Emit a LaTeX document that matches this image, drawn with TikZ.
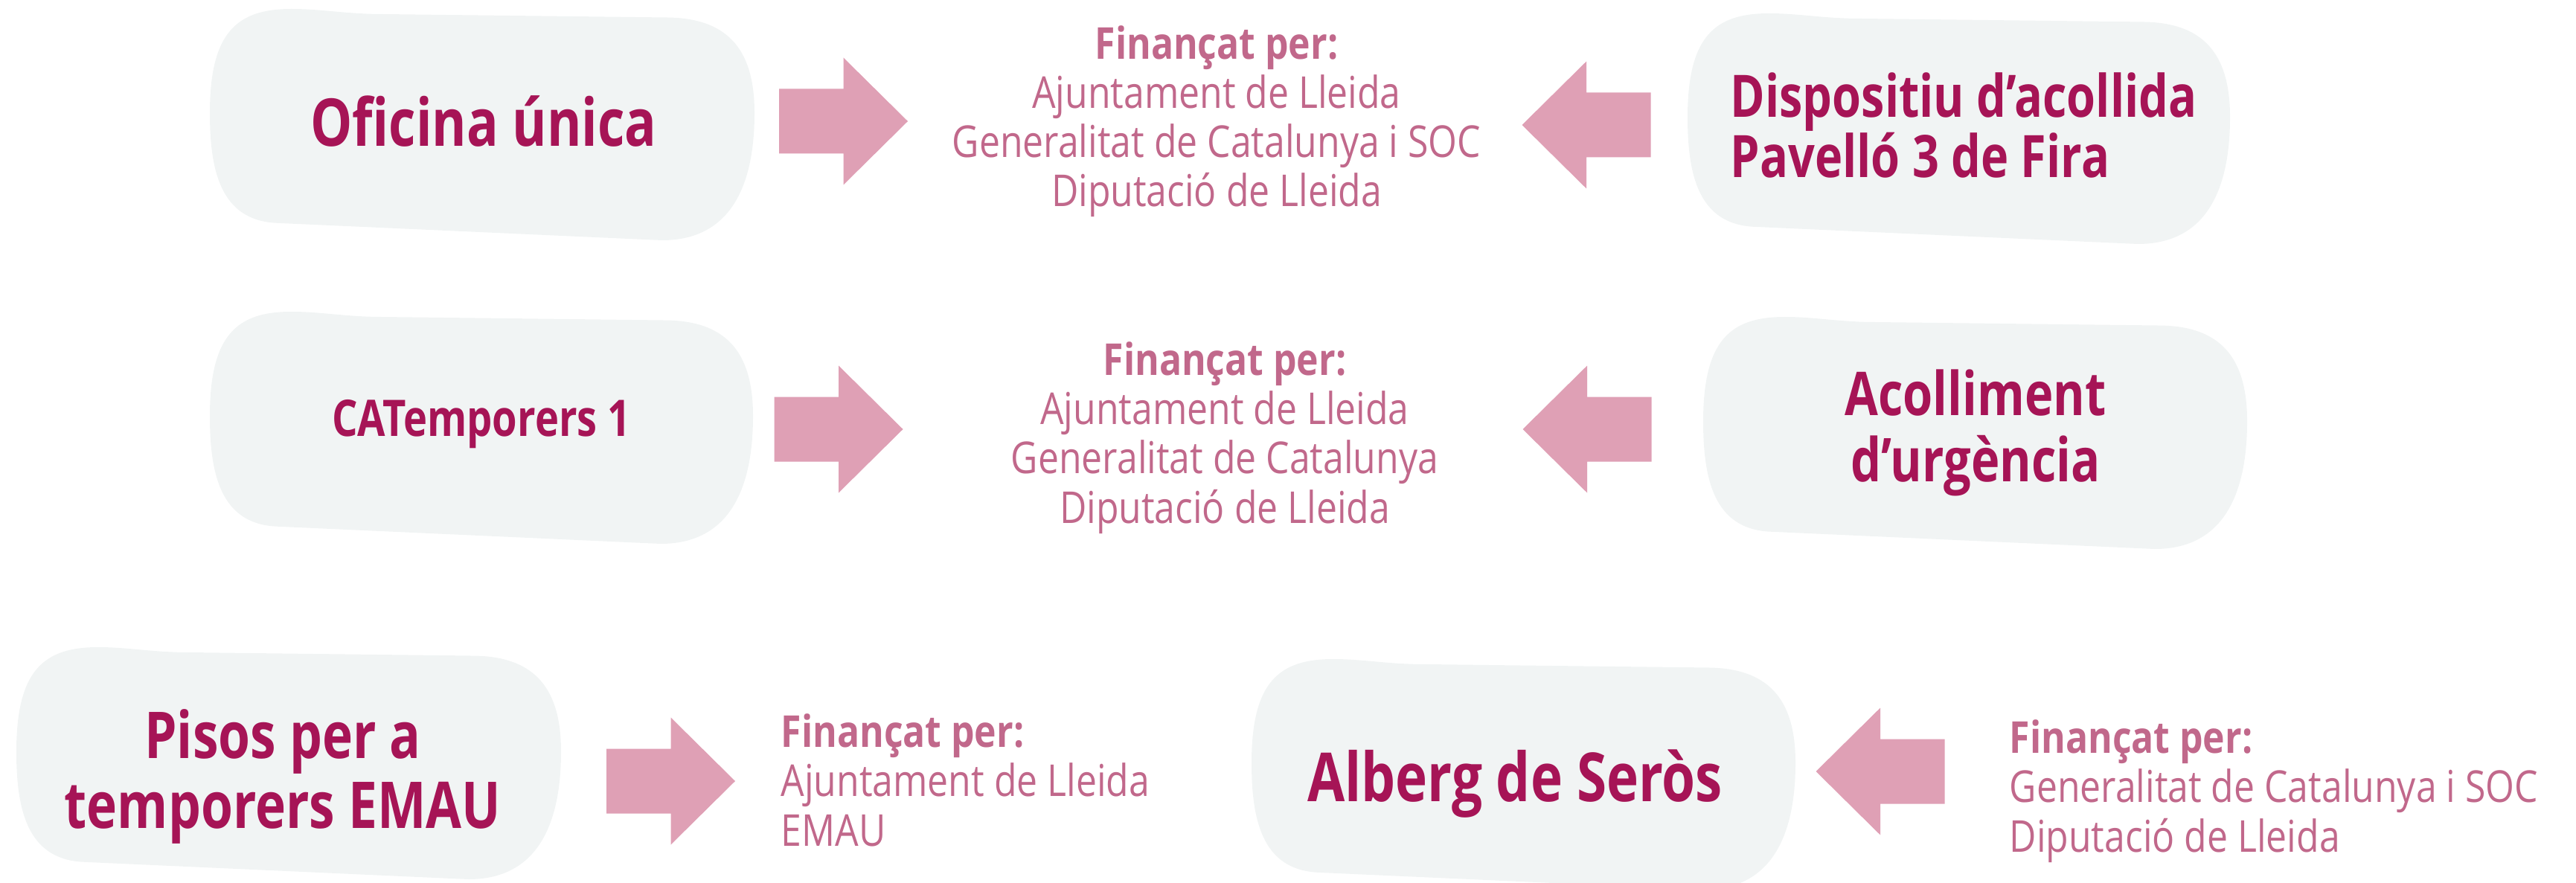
\documentclass[tikz,border=0pt]{standalone}
\usepackage{fontspec}
\setmainfont{Open Sans}
\newfontfamily\titlefont{Open Sans}[FakeStretch=0.80]
\newfontfamily\fundfont{Open Sans}[FakeStretch=0.845]
\usetikzlibrary{positioning}
\definecolor{titlecol}{HTML}{A61456}
\definecolor{fundcol}{HTML}{C1688B}
\definecolor{arrowcol}{HTML}{DFA0B5}
\definecolor{boxcol}{HTML}{F1F4F4}
\tikzset{
	blob/.pic={
		\fill[boxcol] (0.15,0) .. controls (0.2,0) and (0.24,-0.018) .. (0.3,-0.022)
			-- (0.84,-0.037) .. controls (0.96,-0.04) and (1,-0.2) .. (1,-0.45)
			.. controls (1,-0.75) and (0.96,-1) .. (0.83,-1)
			-- (0.12,-0.925) .. controls (0.02,-0.91) and (0,-0.7) .. (0,-0.45)
			.. controls (0,-0.1) and (0.05,0) .. (0.15,0) -- cycle;
	},
	barrow/.pic={
		\fill[arrowcol] (-0.865,0.435) -- (0,0.435) -- (0,0.855) -- (0.865,0)
			-- (0,-0.855) -- (0,-0.435) -- (-0.865,-0.435) -- cycle;
	},
	title/.style 2 args={
		text=titlecol,
		inner sep=0pt,
		align=center,
		font={\titlefont\bfseries\fontsize{#1}{#2}\selectfont}
	},
	fund/.style={
		text=fundcol,
		inner sep=0pt,
		align=center,
		font={\fundfont\fontsize{16.8}{18.8}\selectfont}
	},
}

\begin{document}
\begin{tikzpicture}
\useasboundingbox (0,0) rectangle (34.62,-11.87);
\clip (0,0) rectangle (34.62,-11.87);

% boxes
\pic[xscale=7.32, yscale=3.11] at (2.82,-0.12) {blob};
\pic[xscale=7.29, yscale=3.10] at (22.68,-0.18) {blob};
\pic[xscale=7.30, yscale=3.12] at (2.82,-4.19) {blob};
\pic[xscale=7.31, yscale=3.12] at (22.89,-4.26) {blob};
\pic[xscale=7.32, yscale=3.12] at (0.22,-8.70) {blob};
\pic[xscale=7.31, yscale=3.10] at (16.82,-8.86) {blob};

% arrows
\pic at (11.335,-1.63) {barrow};
\pic[rotate=180] at (21.32,-1.68) {barrow};
\pic at (11.27,-5.77) {barrow};
\pic[rotate=180] at (21.33,-5.77) {barrow};
\pic at (9.015,-10.50) {barrow};
\pic[rotate=180] at (25.27,-10.37) {barrow};

% titles
\node (oficina)[title={25.2}{30}, anchor=base] at (6.50,-1.97) {Oficina única};
\node (dispositiu)[title={22.4}{23.3}, align=left, anchor=base west] at (23.25,-2.39) {Dispositiu d’acollida\\Pavelló 3 de Fira};
\node (catemp)[title={19.3}{24}, anchor=base] at (6.47,-5.86) {CATemporers 1};
\node (acolliment)[title={23.1}{25.3}, anchor=base] at (26.55,-6.47) {Acolliment\\d’urgència};
\node (pisos)[title={24.7}{26.7}, anchor=base] at (3.80,-11.13) {Pisos per a\\temporers EMAU};
\node (alberg)[title={25.9}{30}, anchor=base] at (20.36,-10.77) {Alberg de Seròs};

% funding
\node (fund1)[fund, anchor=base] at (16.35,-2.78) {{\bfseries Finançat per:}\\Ajuntament de Lleida\\Generalitat de Catalunya i SOC\\Diputació de Lleida};
\node (fund2)[fund, anchor=base] at (16.46,-7.03) {{\bfseries Finançat per:}\\Ajuntament de Lleida\\Generalitat de Catalunya\\Diputació de Lleida};
\node (fund3)[fund, align=left, anchor=base west] at (10.49,-11.37) {{\bfseries Finançat per:}\\Ajuntament de Lleida\\EMAU};
\node (fund4)[fund, align=left, anchor=base west] at (27.00,-11.45) {{\bfseries Finançat per:}\\Generalitat de Catalunya i SOC\\Diputació de Lleida};

\end{tikzpicture}
\end{document}
